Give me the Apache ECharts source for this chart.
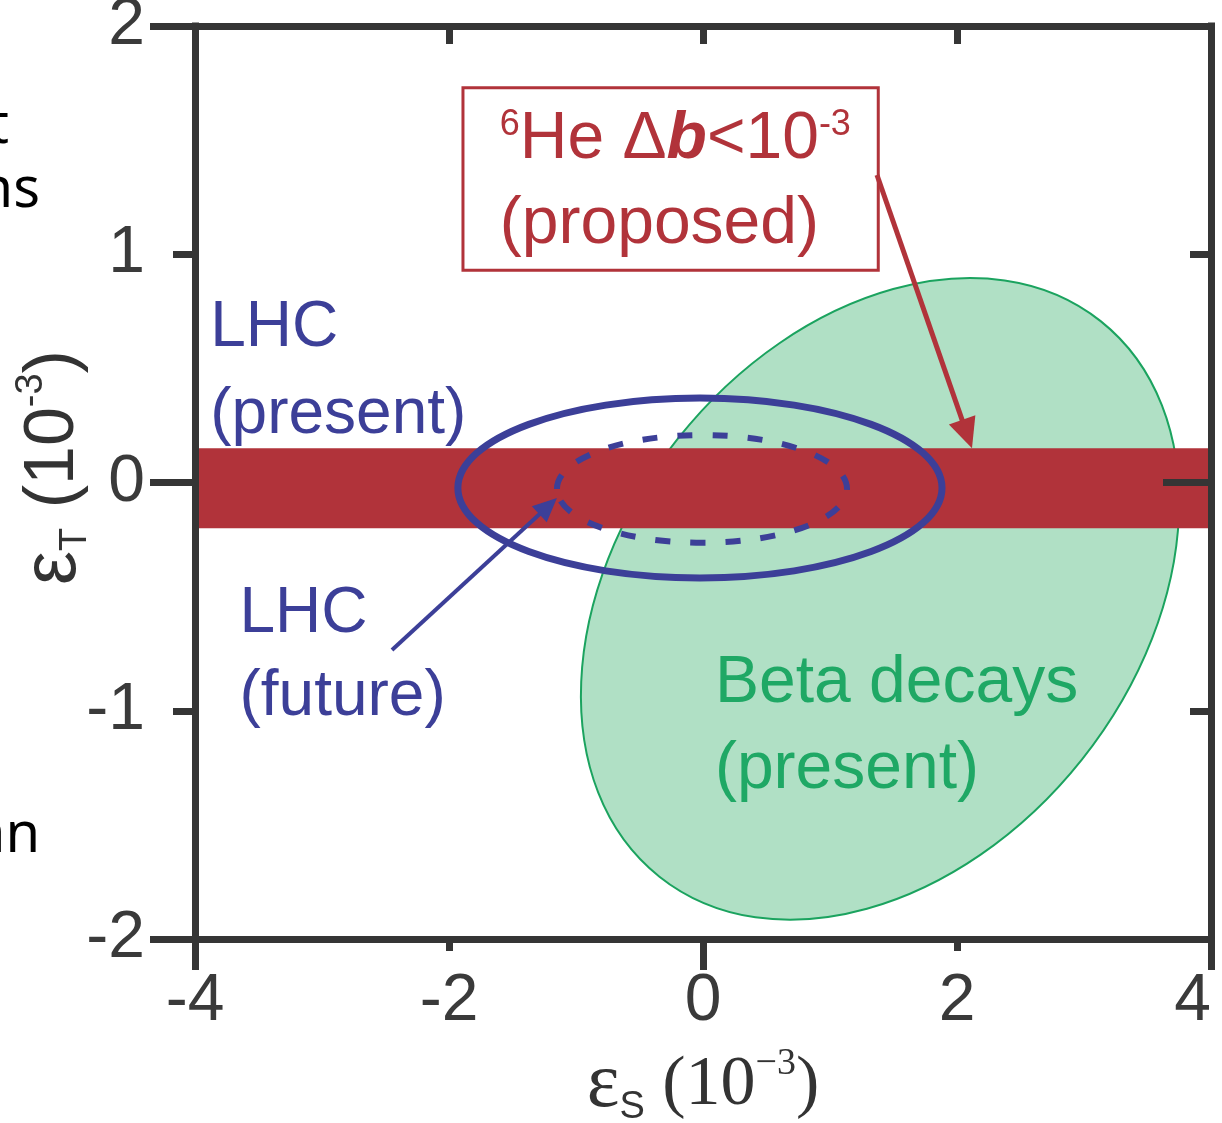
<!DOCTYPE html>
<html>
<head>
<meta charset="utf-8">
<script src="https://cdn.jsdelivr.net/npm/echarts@6/dist/echarts.min.js"></script>
<style>
  html, body { margin: 0; padding: 0; background: #fff; }
  #chart { width: 1222px; height: 1123px; }
</style>
</head>
<body>
<div id="chart"></div>
<script>
// axis ranges (units of 10^-3)
const xRange = [-4, 4];
const yRange = [-2, 2];

// 6He proposed band: x extent, y extent
const bandX = [-4, 4];
const bandY = [-0.2, 0.15];

// ellipses as [center, end of first semi-axis, end of second semi-axis]
const betaEllipse = [[1.394, -0.51], [3.131, 0.707], [2.983, -1.214]];
const lhcPresentEllipse = [[-0.024, -0.024], [1.882, -0.024], [-0.024, 0.37]];
const lhcFutureEllipse = [[-0.008, -0.028], [1.134, -0.028], [-0.008, 0.208]];

// annotation box corners and arrows [from, to]
const boxCorners = [[-1.89, 1.73], [1.38, 0.93]];
const redArrow = [[1.37, 1.347], [2.118, 0.15]];
const blueArrow = [[-2.449, -0.734], [-1.15, -0.068]];

// text labels [x, y, text]
const boxLabels = [[-1.6, 1.5, '{sup|6}He Δ{bi|b}<10{sup|-3}'], [-1.6, 1.13, '(proposed)']];
const lhcPresentLabels = [[-3.88, 0.677, 'LHC'], [-3.88, 0.296, '(present)']];
const lhcFutureLabels = [[-3.65, -0.576, 'LHC'], [-3.65, -0.94, '(future)']];
const betaLabels = [[0.094, -0.883, 'Beta decays'], [0.094, -1.26, '(present)']];

const AXIS = '#353535';
const RED = '#b1333a';
const BLUE = '#3c3f98';
const GREEN = '#1fa865';
const SANS = '"Liberation Sans", Arial, sans-serif';
const SERIF = '"Liberation Serif", "Times New Roman", serif';

const chart = echarts.init(document.getElementById('chart'));

function ellipseSeries(name, pts, style, z) {
  return {
    name, type: 'custom', z, silent: true,
    data: [pts.flat()],
    encode: { x: [0, 2, 4], y: [1, 3, 5] },
    renderItem: (params, api) => {
      const c = api.coord([api.value(0), api.value(1)]);
      const m = api.coord([api.value(2), api.value(3)]);
      const n = api.coord([api.value(4), api.value(5)]);
      const rx = Math.hypot(m[0] - c[0], m[1] - c[1]);
      const ry = Math.hypot(n[0] - c[0], n[1] - c[1]);
      return {
        type: 'ellipse', x: c[0], y: c[1],
        rotation: -Math.atan2(m[1] - c[1], m[0] - c[0]),
        shape: { cx: 0, cy: 0, rx, ry },
        style
      };
    }
  };
}

function arrowSeries(name, pts, color, width, headLen, headHalf) {
  return {
    name, type: 'custom', z: 6, silent: true,
    data: [pts.flat()],
    encode: { x: [0, 2], y: [1, 3] },
    renderItem: (params, api) => {
      const a = api.coord([api.value(0), api.value(1)]);
      const b = api.coord([api.value(2), api.value(3)]);
      const dx = b[0] - a[0], dy = b[1] - a[1];
      const L = Math.hypot(dx, dy), ux = dx / L, uy = dy / L;
      const bx = b[0] - ux * headLen, by = b[1] - uy * headLen;
      return {
        type: 'group',
        children: [
          { type: 'line', shape: { x1: a[0], y1: a[1], x2: bx + ux * 2, y2: by + uy * 2 },
            style: { stroke: color, lineWidth: width } },
          { type: 'polygon',
            shape: { points: [b, [bx - uy * headHalf, by + ux * headHalf], [bx + uy * headHalf, by - ux * headHalf]] },
            style: { fill: color } }
        ]
      };
    }
  };
}

function textSeries(name, rows, color, size) {
  return {
    name, type: 'custom', z: 7, silent: true,
    data: rows,
    encode: { x: 0, y: 1 },
    renderItem: (params, api) => {
      const p = api.coord([api.value(0), api.value(1)]);
      return {
        type: 'text', x: p[0], y: p[1],
        style: {
          text: rows[params.dataIndex][2],
          fill: color, fontSize: size, fontFamily: SANS,
          align: 'left', verticalAlign: 'middle',
          rich: {
            sup: { fontSize: 36, fill: color, fontFamily: SANS, verticalAlign: 'top', lineHeight: 36 },
            bi: { fontSize: size, fill: color, fontFamily: SANS, fontStyle: 'italic', fontWeight: 'bold' }
          }
        }
      };
    }
  };
}

const tickStyle = { color: AXIS, width: 7 };
const lineStyle = { color: AXIS, width: 7, cap: 'square' };
const labelFont = { fontSize: 66, color: '#3a3a3a', fontFamily: SANS };

function xAx(extra) {
  return Object.assign({
    type: 'value', min: xRange[0], max: xRange[1], z: 10,
    splitLine: { show: false }, axisLine: { show: false, onZero: false },
    axisLabel: { show: false }
  }, extra);
}
function yAx(extra) {
  return Object.assign({
    type: 'value', min: yRange[0], max: yRange[1], z: 10,
    splitLine: { show: false }, axisLine: { show: false, onZero: false },
    axisLabel: { show: false }
  }, extra);
}

chart.setOption({
  animation: false,
  backgroundColor: '#fff',
  grid: { left: 195, right: 11, top: 26, bottom: 184, containLabel: false, outerBoundsMode: 'none' },
  xAxis: [
    xAx({
      position: 'bottom', interval: 2,
      axisLine: { show: true, onZero: false, lineStyle },
      axisTick: { show: true, length: 12, lineStyle: tickStyle },
      axisLabel: Object.assign({ show: true, margin: 30, alignMaxLabel: 'right' }, labelFont),
      name: '{e|ε}{s|S} {n|(10}{p|−3}{n|)}',
      nameLocation: 'middle', nameGap: 106,
      nameTextStyle: {
        fontFamily: SERIF, fontSize: 70, color: '#333', lineHeight: 82,
        rich: {
          e: { fontFamily: SERIF, fontSize: 78, color: '#333', lineHeight: 82 },
          s: { fontFamily: SANS, fontSize: 38, color: '#333', lineHeight: 38, verticalAlign: 'bottom' },
          n: { fontFamily: SERIF, fontSize: 70, color: '#333', lineHeight: 82 },
          p: { fontFamily: SERIF, fontSize: 38, color: '#333', lineHeight: 38, verticalAlign: 'top' }
        }
      }
    }),
    xAx({ position: 'bottom', interval: 4, axisTick: { show: true, length: 31, lineStyle: tickStyle } }),
    xAx({
      position: 'top', interval: 2,
      axisLine: { show: true, onZero: false, lineStyle },
      axisTick: { show: true, inside: true, length: 18, lineStyle: tickStyle }
    })
  ],
  yAxis: [
    yAx({
      position: 'left', interval: 1,
      axisLine: { show: true, onZero: false, lineStyle },
      axisTick: { show: true, length: 22, lineStyle: tickStyle },
      axisLabel: Object.assign({ show: true, margin: 50 }, labelFont),
      name: '{e|ε}{s|T} {n|(10}{p|-3}{n|)}',
      nameLocation: 'middle', nameGap: 100, nameRotate: 90, nameMoveOverlap: false,
      nameTextStyle: {
        fontFamily: SANS, fontSize: 70, color: '#333', lineHeight: 82, padding: [0, 0, 0, 30],
        rich: {
          e: { fontFamily: SANS, fontSize: 76, color: '#333', lineHeight: 82 },
          s: { fontFamily: SANS, fontSize: 38, color: '#333', lineHeight: 38, verticalAlign: 'bottom' },
          n: { fontFamily: SANS, fontSize: 70, color: '#333', lineHeight: 82 },
          p: { fontFamily: SANS, fontSize: 38, color: '#333', lineHeight: 38, verticalAlign: 'top' }
        }
      }
    }),
    yAx({ position: 'left', interval: 2, axisTick: { show: true, length: 45, lineStyle: tickStyle } }),
    yAx({
      position: 'right', interval: 1,
      axisLine: { show: true, onZero: false, lineStyle },
      axisTick: { show: true, inside: true, length: 21, lineStyle: tickStyle }
    }),
    yAx({ position: 'right', interval: 2, axisTick: { show: true, inside: true, length: 48, lineStyle: tickStyle } })
  ],
  graphic: [
    { type: 'text', x: 9, y: 127, style: { text: 't', align: 'right', verticalAlign: 'middle', fontSize: 56, fill: '#000', fontFamily: '"Noto Sans", sans-serif' } },
    { type: 'text', x: 40, y: 191, style: { text: 'ns', align: 'right', verticalAlign: 'middle', fontSize: 56, fill: '#000', fontFamily: '"Noto Sans", sans-serif' } },
    { type: 'text', x: 40, y: 836, style: { text: 'an', align: 'right', verticalAlign: 'middle', fontSize: 56, fill: '#000', fontFamily: '"Noto Sans", sans-serif' } }
  ],
  series: [
    ellipseSeries('Beta decays', betaEllipse, { fill: '#b0e0c5', stroke: '#1ba35f', lineWidth: 2 }, 2),
    {
      name: '6He band', type: 'custom', z: 3, silent: true,
      data: [[bandX[0], bandY[0], bandX[1], bandY[1]]],
      encode: { x: [0, 2], y: [1, 3] },
      renderItem: (params, api) => {
        const p0 = api.coord([api.value(0), api.value(3)]);
        const p1 = api.coord([api.value(2), api.value(1)]);
        return { type: 'rect', shape: { x: p0[0], y: p0[1], width: p1[0] - p0[0], height: p1[1] - p0[1] }, style: { fill: RED } };
      }
    },
    ellipseSeries('LHC present', lhcPresentEllipse, { fill: 'none', stroke: BLUE, lineWidth: 7 }, 4),
    ellipseSeries('LHC future', lhcFutureEllipse, { fill: 'none', stroke: BLUE, lineWidth: 6, lineDash: [15, 20] }, 4),
    {
      name: 'box', type: 'custom', z: 5, silent: true,
      data: [boxCorners.flat()],
      encode: { x: [0, 2], y: [1, 3] },
      renderItem: (params, api) => {
        const p0 = api.coord([api.value(0), api.value(1)]);
        const p1 = api.coord([api.value(2), api.value(3)]);
        return { type: 'rect', shape: { x: p0[0], y: p0[1], width: p1[0] - p0[0], height: p1[1] - p0[1] }, style: { fill: '#fff', stroke: RED, lineWidth: 3 } };
      }
    },
    arrowSeries('red arrow', redArrow, RED, 5, 30, 14),
    arrowSeries('blue arrow', blueArrow, BLUE, 4, 24, 11),
    textSeries('box text', boxLabels, RED, 66),
    textSeries('LHC present text', lhcPresentLabels, BLUE, 64),
    textSeries('LHC future text', lhcFutureLabels, BLUE, 64),
    textSeries('beta text', betaLabels, GREEN, 66)
  ]
});
</script>
</body>
</html>
